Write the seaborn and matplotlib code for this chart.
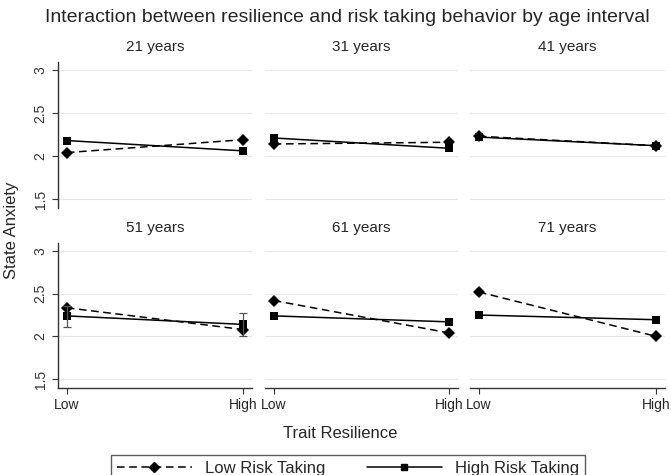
import pandas as pd
import matplotlib
matplotlib.use("Agg")
import matplotlib.pyplot as plt
from matplotlib import font_manager
from matplotlib.lines import Line2D
import seaborn as sns

# values
ages = ["21 years", "31 years", "41 years", "51 years", "61 years", "71 years"]
levels = ["Low", "High"]
low_risk_low = [2.04, 2.14, 2.23, 2.335, 2.42, 2.52]
low_risk_high = [2.19, 2.16, 2.12, 2.08, 2.04, 2.00]
high_risk_low = [2.18, 2.21, 2.22, 2.24, 2.24, 2.25]
high_risk_high = [2.06, 2.09, 2.12, 2.14, 2.17, 2.195]
# confidence interval only visible in the 51 years panel
ci_age = "51 years"
ci_lower = [2.105, 2.01]
ci_upper = [2.36, 2.27]
yticks = [1.5, 2, 2.5, 3]

rows = []
for i, age in enumerate(ages):
    rows.append((age, 0, low_risk_low[i], "Low Risk Taking"))
    rows.append((age, 1, low_risk_high[i], "Low Risk Taking"))
    rows.append((age, 0, high_risk_low[i], "High Risk Taking"))
    rows.append((age, 1, high_risk_high[i], "High Risk Taking"))
df = pd.DataFrame(rows, columns=["age", "resilience", "anxiety", "risk"])

sns.set_style("white")
names = {f.name for f in font_manager.fontManager.ttflist}
plt.rcParams["font.family"] = ["Liberation Sans", "DejaVu Sans"]
title_font = "Liberation Sans Narrow" if "Liberation Sans Narrow" in names else "Liberation Sans"

fig = plt.figure(figsize=(6.71, 4.75), dpi=100)
W, H = 671, 475
cols_px = [(58, 252), (265, 458), (470, 665)]
rows_px = [(62, 208), (243, 388)]

for k, age in enumerate(ages):
    r, c = divmod(k, 3)
    x0, x1 = cols_px[c]
    y0, y1 = rows_px[r]
    ax = fig.add_axes([x0 / W, 1 - y1 / H, (x1 - x0) / W, (y1 - y0) / H])
    sub = df[df["age"] == age]
    sns.lineplot(data=sub, x="resilience", y="anxiety", hue="risk", style="risk",
                 hue_order=["Low Risk Taking", "High Risk Taking"],
                 palette={"Low Risk Taking": "black", "High Risk Taking": "black"},
                 markers={"Low Risk Taking": "D", "High Risk Taking": "s"},
                 dashes={"Low Risk Taking": (5, 3), "High Risk Taking": ""},
                 markersize=6, linewidth=1.1, markeredgewidth=0, ax=ax, legend=False)
    if age == ci_age:
        mid = [(a + b) / 2 for a, b in zip(ci_lower, ci_upper)]
        half = [(b - a) / 2 for a, b in zip(ci_lower, ci_upper)]
        ax.errorbar([0, 1], mid, yerr=half, fmt="none", ecolor="#555555",
                    elinewidth=0.9, capsize=3, capthick=0.9)
    ax.set_xlim(-0.05, 1.05)
    ax.set_ylim(1.395, 3.094)
    ax.set_yticks(yticks)
    ax.yaxis.grid(True, color="#e8e8e8", linewidth=0.8)
    ax.set_axisbelow(True)
    ax.set_title(age, fontsize=11, pad=8)
    ax.set_xlabel("")
    ax.set_ylabel("")
    for s in ["top", "right"]:
        ax.spines[s].set_visible(False)
    ax.spines["left"].set_visible(c == 0)
    ax.spines["bottom"].set_visible(r == 1)
    for s in ["left", "bottom"]:
        ax.spines[s].set_color("#333333")
        ax.spines[s].set_linewidth(1.0)
    if c == 0:
        ax.set_yticklabels(["1.5", "2", "2.5", "3"], rotation=90, va="center", fontsize=10, color="#333333")
        ax.tick_params(axis="y", left=True, length=4, width=0.8, color="#333333")
    else:
        ax.tick_params(axis="y", left=False, labelleft=False)
    if r == 1:
        ax.set_xticks([0, 1])
        ax.set_xticklabels(levels, fontsize=10)
        ax.tick_params(axis="x", bottom=True, length=4, width=0.8, color="#333333")
    else:
        ax.set_xticks([])

fig.text(0.5 + 12 / W, 1 - 18 / H, "Interaction between resilience and risk taking behavior by age interval",
         ha="center", va="center", fontsize=14, family=title_font)
fig.text(12 / W, 1 - 230 / H, "State Anxiety", rotation=90, ha="center", va="center", fontsize=12)
fig.text(340 / W, 1 - 434 / H, "Trait Resilience", ha="center", va="center", fontsize=12)

handles = [Line2D([], [], color="black", ls=(0, (5, 3)), marker="D", markersize=5, lw=1.1),
           Line2D([], [], color="black", ls="-", marker="s", markersize=5, lw=1.1)]
leg = fig.legend(handles, ["Low Risk Taking", "High Risk Taking"], loc="upper center",
                 bbox_to_anchor=(348 / W, 1 - 447 / H), ncol=2, frameon=True, fancybox=False,
                 edgecolor="#333333", fontsize=12, handlelength=4.5, columnspacing=2.5,
                 borderpad=0.35)
leg.get_frame().set_linewidth(1.0)

fig.savefig("out.png", dpi=100)
